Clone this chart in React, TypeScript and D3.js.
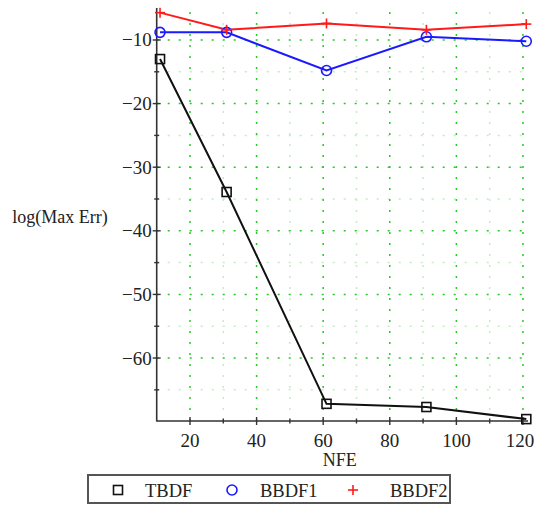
import React from "react";
import * as d3 from "d3";

const nfe = [11, 31, 61, 91, 121];
const tbdf = [-13.0, -33.9, -67.2, -67.7, -69.6];
const bbdf1 = [-8.8, -8.8, -14.8, -9.5, -10.2];
const bbdf2 = [-5.7, -8.4, -7.4, -8.4, -7.5];
const xTicks = [20, 40, 60, 80, 100, 120];
const xMinor = [30, 50, 70, 90, 110];
const yTicks = [-10, -20, -30, -40, -50, -60];
const yMinor = [-15, -25, -35, -45, -55, -65];
const seriesNames = ["TBDF", "BBDF1", "BBDF2"];

export default function App() {
  const W = 534, H = 506;
  const x = d3.scaleLinear().domain([10, 121]).range([156.7, 526.3]);
  const y = d3.scaleLinear().domain([-69.9, -5.6]).range([421, 12]);
  const line = d3.line<number>().x((_, i) => x(nfe[i])).y((d) => y(d));
  const serif = "'Liberation Serif', 'Times New Roman', serif";
  const x0 = x(10), yb = y(-69.9), yt = 8, xr = 527;
  const green = "#22cc22";
  const pale = "#c4ebc4";
  const sq = (cx: number, cy: number, k: string) => (
    <rect key={k} x={cx - 4.5} y={cy - 4.5} width={9} height={9} fill="none" stroke="#111" strokeWidth={1.6} />
  );
  const circ = (cx: number, cy: number, k: string) => (
    <circle key={k} cx={cx} cy={cy} r={5} fill="none" stroke="#1a1aff" strokeWidth={1.6} />
  );
  const plus = (cx: number, cy: number, k: string) => (
    <g key={k} stroke="#ff1a1a" strokeWidth={1.6}>
      <line x1={cx - 5} x2={cx + 5} y1={cy} y2={cy} />
      <line x1={cx} x2={cx} y1={cy - 5} y2={cy + 5} />
    </g>
  );
  return (
    <svg width={W} height={H} style={{ position: "absolute", left: 0, top: 0 }}>
      <rect width={W} height={H} fill="#fff" />
      {xMinor.map((v) => (
        <line key={"xm" + v} x1={x(v)} x2={x(v)} y1={yb} y2={yt} stroke={pale} strokeWidth={1.5} strokeDasharray="2 9" />
      ))}
      {yMinor.map((v) => (
        <line key={"ym" + v} x1={x0} x2={xr} y1={y(v)} y2={y(v)} stroke={pale} strokeWidth={1.5} strokeDasharray="2 9" />
      ))}
      {xTicks.map((v) => (
        <line key={"xg" + v} x1={x(v)} x2={x(v)} y1={yb} y2={yt} stroke={green} strokeWidth={1.5} strokeDasharray="2 9" />
      ))}
      {yTicks.map((v) => (
        <line key={"yg" + v} x1={x0} x2={xr} y1={y(v)} y2={y(v)} stroke={green} strokeWidth={1.5} strokeDasharray="2 9" />
      ))}
      <line x1={x0} x2={x0} y1={yb + 0.5} y2={yt} stroke="#333" strokeWidth={1.6} />
      <line x1={x0} x2={528} y1={yb} y2={yb} stroke="#333" strokeWidth={1.6} />
      {xTicks.map((v) => (
        <line key={"xt" + v} x1={x(v)} x2={x(v)} y1={yb - 4} y2={yb + 4} stroke="#333" strokeWidth={1.4} />
      ))}
      {xMinor.map((v) => (
        <line key={"xmt" + v} x1={x(v)} x2={x(v)} y1={yb - 2.5} y2={yb + 2.5} stroke="#333" strokeWidth={1.4} />
      ))}
      {yTicks.map((v) => (
        <line key={"yt" + v} x1={x0 - 4} x2={x0 + 4} y1={y(v)} y2={y(v)} stroke="#333" strokeWidth={1.4} />
      ))}
      {yMinor.map((v) => (
        <line key={"ymt" + v} x1={x0 - 2.5} x2={x0 + 2.5} y1={y(v)} y2={y(v)} stroke="#333" strokeWidth={1.4} />
      ))}
      {xTicks.map((v) => (
        <text key={"xl" + v} x={Math.min(x(v), 520)} y={447} textAnchor="middle" fontFamily={serif} fontSize={19} fill="#222">
          {v}
        </text>
      ))}
      {yTicks.map((v) => (
        <text key={"yl" + v} x={x0 - 5} y={y(v) + 6.5} textAnchor="end" fontFamily={serif} fontSize={19} fill="#222">
          {"\u2212" + Math.abs(v)}
        </text>
      ))}
      <text x={x(65)} y={466} textAnchor="middle" fontFamily={serif} fontSize={18} fill="#222">NFE</text>
      <text x={60} y={223} textAnchor="middle" fontFamily={serif} fontSize={18} fill="#222">log(Max Err)</text>
      <path d={line(tbdf) || ""} fill="none" stroke="#111" strokeWidth={2} />
      <path d={line(bbdf1) || ""} fill="none" stroke="#1a1aff" strokeWidth={2} />
      <path d={line(bbdf2) || ""} fill="none" stroke="#ff1a1a" strokeWidth={2} />
      {tbdf.map((v, i) => sq(x(nfe[i]), y(v), "s" + i))}
      {bbdf1.map((v, i) => circ(x(nfe[i]), y(v), "c" + i))}
      {bbdf2.map((v, i) => plus(x(nfe[i]), y(v), "p" + i))}
      <rect x={88} y={475} width={362} height={28} fill="#fff" stroke="#555" strokeWidth={2} />
      {sq(118, 490, "ls")}
      {circ(232, 490, "lc")}
      {plus(353, 490, "lp")}
      <text x={145} y={496.5} fontFamily={serif} fontSize={18.5} fill="#222">{seriesNames[0]}</text>
      <text x={260} y={496.5} fontFamily={serif} fontSize={18.5} fill="#222">{seriesNames[1]}</text>
      <text x={390} y={496.5} fontFamily={serif} fontSize={18.5} fill="#222">{seriesNames[2]}</text>
    </svg>
  );
}
